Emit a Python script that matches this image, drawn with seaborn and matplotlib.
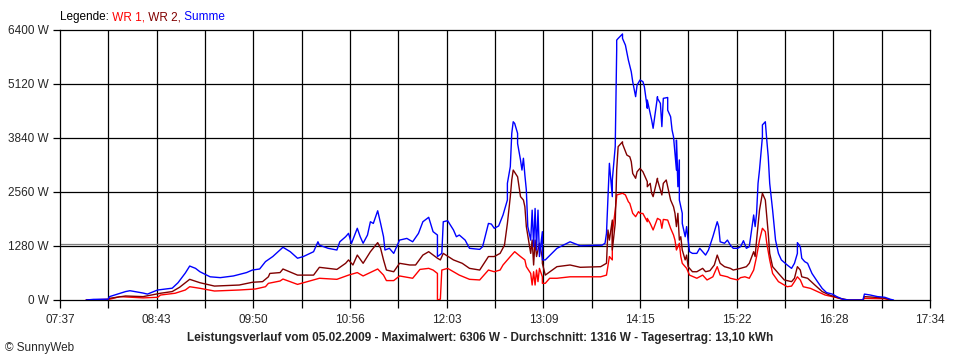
import numpy as np
import pandas as pd
import matplotlib
matplotlib.use("Agg")
import matplotlib.pyplot as plt
import seaborn as sns

# Leistungswerte (W)
wr1_zeit = ['07:55', '08:11', '08:18', '08:34', '08:44', '08:46', '08:56', '09:03', '09:06', '09:13',
            '09:23', '09:40', '09:51', '09:58', '10:00', '10:08', '10:10', '10:20', '10:35', '10:47',
            '10:55', '11:01', '11:05', '11:15', '11:19', '11:21', '11:26', '11:30', '11:39', '11:44',
            '11:50', '11:53', '11:56', '11:56', '11:58', '11:59', '12:03', '12:07', '12:11', '12:18',
            '12:25', '12:31', '12:35', '12:39', '12:41', '12:46', '12:49', '12:53', '12:56', '12:57',
            '13:00', '13:01', '13:02', '13:03', '13:04', '13:05', '13:06', '13:08', '13:08', '13:10',
            '13:13', '13:18', '13:27', '13:48', '13:52', '13:54', '13:56', '13:56', '13:58', '13:59',
            '13:59', '14:03', '14:05', '14:07', '14:08', '14:10', '14:12', '14:14', '14:15', '14:17',
            '14:20', '14:20', '14:22', '14:24', '14:27', '14:29', '14:30', '14:31', '14:34', '14:36',
            '14:38', '14:39', '14:40', '14:42', '14:43', '14:44', '14:47', '14:49', '14:54', '14:58',
            '15:01', '15:05', '15:08', '15:10', '15:15', '15:17', '15:22', '15:24', '15:27', '15:30',
            '15:33', '15:35', '15:37', '15:39', '15:41', '15:42', '15:44', '15:46', '15:50', '15:56',
            '15:59', '16:01', '16:03', '16:05', '16:07', '16:12', '16:17', '16:22', '16:29', '16:36',
            '16:48', '16:49', '17:03', '17:07']
wr1_watt = [0, 17, 80, 50, 64, 118, 160, 237, 315, 277,
            213, 237, 260, 315, 395, 450, 497, 370, 515, 490,
            590, 650, 570, 735, 590, 460, 460, 570, 515, 725,
            750, 710, 630, 0, 20, 710, 750, 670, 590, 490,
            475, 710, 670, 710, 830, 1030, 1145, 1030, 950, 790,
            630, 355, 670, 355, 710, 435, 750, 550, 395, 395,
            515, 515, 550, 550, 590, 1030, 950, 1580, 2130, 2450,
            2490, 2530, 2490, 2330, 2290, 2055, 1975, 2095, 2055, 2050,
            1855, 1935, 1815, 1660, 1935, 1895, 1700, 1910, 1895, 1700,
            1540, 1420, 1185, 1345, 1030, 870, 750, 590, 515, 590,
            475, 550, 790, 590, 550, 515, 475, 530, 550, 515,
            710, 1030, 1420, 1700, 1620, 1345, 950, 630, 435, 315,
            330, 435, 550, 475, 315, 275, 197, 118, 64, 0,
            0, 40, 30, 0]

wr2_zeit = ['07:55', '08:10', '08:11', '08:22', '08:34', '08:46', '08:54', '08:59', '09:06', '09:13',
            '09:23', '09:40', '09:49', '09:56', '10:00', '10:01', '10:08', '10:10', '10:20', '10:31',
            '10:35', '10:47', '10:53', '10:55', '10:58', '11:01', '11:05', '11:10', '11:15', '11:17',
            '11:19', '11:21', '11:26', '11:30', '11:37', '11:41', '11:46', '11:50', '11:56', '11:58',
            '12:00', '12:07', '12:13', '12:18', '12:25', '12:31', '12:35', '12:39', '12:42', '12:44',
            '12:46', '12:47', '12:48', '12:51', '12:53', '12:55', '12:56', '12:57', '13:00', '13:01',
            '13:02', '13:03', '13:04', '13:06', '13:08', '13:08', '13:10', '13:18', '13:27', '13:34',
            '13:48', '13:52', '13:53', '13:54', '13:56', '13:56', '13:58', '13:59', '14:00', '14:03',
            '14:03', '14:06', '14:08', '14:09', '14:10', '14:12', '14:13', '14:15', '14:17', '14:20',
            '14:20', '14:22', '14:23', '14:24', '14:27', '14:27', '14:29', '14:30', '14:31', '14:33',
            '14:34', '14:36', '14:38', '14:39', '14:40', '14:41', '14:42', '14:43', '14:44', '14:46',
            '14:47', '14:48', '14:51', '14:54', '14:58', '15:00', '15:03', '15:06', '15:08', '15:10',
            '15:13', '15:17', '15:19', '15:24', '15:28', '15:30', '15:33', '15:34', '15:35', '15:37',
            '15:39', '15:41', '15:42', '15:43', '15:44', '15:46', '15:50', '15:54', '15:59', '16:01',
            '16:03', '16:05', '16:06', '16:10', '16:15', '16:20', '16:25', '16:32', '16:38', '16:48',
            '16:49', '16:58', '17:03', '17:07']
wr2_watt = [0, 10, 40, 95, 80, 160, 200, 300, 490, 410,
            330, 355, 420, 435, 550, 630, 650, 735, 590, 590,
            775, 725, 870, 950, 830, 1065, 870, 1145, 1360, 1225,
            950, 710, 670, 870, 830, 830, 1065, 1145, 990, 950,
            1105, 950, 870, 750, 710, 1030, 1030, 1105, 1300, 1815,
            2450, 2845, 3080, 2920, 2450, 2370, 2210, 1740, 1105, 1420,
            830, 1420, 1030, 1345, 990, 870, 590, 790, 830, 775,
            790, 870, 1660, 1420, 1895, 1185, 1815, 3080, 3635, 3750,
            3700, 3435, 3395, 3280, 3000, 2885, 3040, 3120, 3040, 2805,
            2685, 2765, 2530, 2450, 2885, 2845, 2610, 2490, 2765, 2845,
            2685, 2370, 2210, 2055, 1740, 2055, 1420, 1500, 1185, 950,
            1065, 790, 670, 670, 750, 670, 695, 830, 1065, 870,
            790, 750, 710, 750, 790, 870, 1145, 1030, 1420, 2130,
            2530, 2370, 1975, 1580, 1105, 790, 630, 475, 435, 515,
            790, 710, 550, 515, 355, 200, 118, 40, 0, 0,
            80, 60, 40, 0]

summe_zeit = ['07:55', '08:00', '08:10', '08:11', '08:22', '08:25', '08:34', '08:37', '08:44', '08:54',
              '08:58', '09:03', '09:06', '09:10', '09:13', '09:20', '09:27', '09:36', '09:45', '09:49',
              '09:54', '09:58', '10:03', '10:08', '10:10', '10:15', '10:20', '10:24', '10:31', '10:34',
              '10:35', '10:41', '10:47', '10:49', '10:53', '10:55', '10:57', '11:01', '11:03', '11:05',
              '11:08', '11:10', '11:12', '11:15', '11:17', '11:19', '11:20', '11:23', '11:26', '11:30',
              '11:35', '11:39', '11:43', '11:46', '11:50', '11:53', '11:56', '11:56', '11:59', '12:00',
              '12:03', '12:07', '12:09', '12:11', '12:15', '12:18', '12:25', '12:27', '12:31', '12:33',
              '12:35', '12:38', '12:41', '12:44', '12:44', '12:46', '12:47', '12:48', '12:49', '12:51',
              '12:51', '12:53', '12:54', '12:55', '12:56', '12:57', '12:58', '13:00', '13:01', '13:02',
              '13:03', '13:04', '13:05', '13:06', '13:08', '13:08', '13:10', '13:18', '13:27', '13:34',
              '13:49', '13:51', '13:52', '13:54', '13:56', '13:56', '13:58', '13:59', '13:59', '14:00',
              '14:03', '14:03', '14:05', '14:07', '14:09', '14:10', '14:12', '14:13', '14:15', '14:17',
              '14:18', '14:20', '14:20', '14:22', '14:23', '14:24', '14:27', '14:27', '14:29', '14:30',
              '14:31', '14:34', '14:34', '14:36', '14:37', '14:38', '14:39', '14:40', '14:40', '14:41',
              '14:42', '14:42', '14:44', '14:44', '14:46', '14:47', '14:48', '14:49', '14:51', '14:54',
              '14:56', '15:00', '15:02', '15:05', '15:08', '15:09', '15:10', '15:13', '15:15', '15:17',
              '15:19', '15:22', '15:24', '15:26', '15:28', '15:30', '15:33', '15:34', '15:35', '15:36',
              '15:37', '15:39', '15:39', '15:41', '15:42', '15:43', '15:44', '15:46', '15:48', '15:50',
              '15:52', '15:56', '15:59', '16:01', '16:03', '16:03', '16:05', '16:06', '16:08', '16:10',
              '16:13', '16:16', '16:20', '16:23', '16:27', '16:30', '16:34', '16:38', '16:48', '16:49',
              '16:53', '16:58', '17:03', '17:07', '17:09']
summe_watt = [0, 15, 20, 80, 200, 220, 165, 140, 237, 280,
              410, 640, 805, 750, 670, 550, 530, 570, 650, 710,
              735, 910, 1030, 1185, 1250, 1145, 990, 1030, 1145, 1380,
              1300, 1225, 1185, 1380, 1500, 1580, 1340, 1700, 1500, 1345,
              1540, 1855, 1815, 2115, 1815, 1500, 1185, 1225, 1105, 1420,
              1460, 1380, 1580, 1855, 1960, 1620, 1540, 1030, 1105, 1855,
              1880, 1660, 1500, 1540, 1420, 1225, 1200, 1265, 1815, 1800,
              1700, 1755, 2015, 2370, 2765, 3160, 3950, 4225, 4185, 3950,
              3710, 3320, 3080, 3360, 2960, 2610, 1740, 1420, 2130, 1265,
              2170, 1185, 2130, 1030, 1620, 950, 950, 1225, 1380, 1285,
              1300, 1345, 1580, 3240, 2450, 2845, 3635, 5925, 6160, 6200,
              6306, 6200, 6040, 5690, 5410, 5175, 4820, 5095, 5215, 5175,
              5055, 4545, 4740, 4425, 4265, 4070, 4820, 4780, 4660, 4110,
              4780, 4800, 4500, 4345, 4030, 3870, 3475, 3080, 3790, 2685,
              3320, 2370, 2055, 1815, 1500, 1740, 1420, 1145, 1105, 1105,
              1225, 1065, 1185, 1500, 1855, 1740, 1380, 1345, 1420, 1300,
              1225, 1225, 1265, 1405, 1225, 1265, 2015, 1740, 2055, 2765,
              3080, 3870, 4150, 4225, 3790, 3395, 2765, 2130, 1420, 1105,
              950, 830, 750, 870, 1105, 1360, 1265, 990, 910, 870,
              630, 475, 275, 175, 140, 80, 20, 0, 0, 140,
              118, 80, 64, 15, 0]

durchschnitt = 1316
zeit_labels = ['07:37', '08:43', '09:50', '10:56', '12:03', '13:09', '14:15', '15:22', '16:28', '17:34']
y_werte = [0, 1280, 2560, 3840, 5120, 6400]
farben = {'WR 1': '#ff0000', 'WR 2': '#800000', 'Summe': '#0000ff'}


def minuten(t):
    h, m = t.split(':')
    return int(h) * 60 + int(m)


frames = []
for name, zeit, watt in [('WR 1', wr1_zeit, wr1_watt), ('WR 2', wr2_zeit, wr2_watt),
                         ('Summe', summe_zeit, summe_watt)]:
    frames.append(pd.DataFrame({'minute': [minuten(t) for t in zeit], 'watt': watt, 'serie': name}))
data = pd.concat(frames, ignore_index=True)

sns.set_style('ticks')
plt.rcParams['font.family'] = ['Liberation Sans', 'DejaVu Sans']

fig = plt.figure(figsize=(9.6, 3.6), dpi=100)
ax = fig.add_axes([60 / 960, 60 / 360, 870 / 960, 270 / 360])

x0 = minuten(zeit_labels[0])
x1 = minuten(zeit_labels[-1])
grid_x = np.linspace(x0, x1, 2 * len(zeit_labels) - 1)

for gx in grid_x[1:-1]:
    ax.axvline(gx, color='black', lw=0.9, zorder=1)
for gy in y_werte[1:-1]:
    ax.axhline(gy, color='black', lw=0.9, zorder=1)
ax.axhline(durchschnitt, color='#808080', lw=0.9, zorder=1)

sns.lineplot(data=data, x='minute', y='watt', hue='serie', palette=farben,
             sort=False, estimator=None, legend=False, lw=1.0, ax=ax, zorder=3)

ax.set_xlim(x0, x1)
ax.set_ylim(y_werte[0], y_werte[-1])
ax.set_xticks(grid_x)
ax.set_xticklabels([zeit_labels[i // 2] if i % 2 == 0 else '' for i in range(len(grid_x))])
ax.set_yticks(y_werte)
ax.set_yticklabels([f'{v} W' for v in y_werte])
ax.set_xlabel('')
ax.set_ylabel('')
ax.tick_params(axis='x', length=6, width=0.9, color='black', pad=4, labelsize=8.5)
ax.tick_params(axis='y', length=5, width=0.9, color='black', pad=3, labelsize=8.5)
for sp in ax.spines.values():
    sp.set_visible(True)
    sp.set_color('black')
    sp.set_linewidth(0.9)

# Legende oben links, mehrfarbig
t = fig.text(60 / 960, 1 - 17 / 360, 'Legende:', fontsize=8.5, va='center', color='black')
for txt, col in [(' WR 1,', farben['WR 1']), (' WR 2,', farben['WR 2']), (' Summe', farben['Summe'])]:
    t = ax.annotate(txt, xy=(1, 0), xycoords=t, va='bottom', ha='left', fontsize=8.5, color=col)

fig.text(0.5, 1 - 338 / 360,
         'Leistungsverlauf vom 05.02.2009 - Maximalwert: 6306 W - Durchschnitt: 1316 W - Tagesertrag: 13,10 kWh',
         ha='center', va='center', fontsize=8.5, fontweight='bold')
fig.text(5 / 960, 1 - 348 / 360, '© SunnyWeb', ha='left', va='center', fontsize=8.5)

fig.savefig('out.png', dpi=100, facecolor='white')
